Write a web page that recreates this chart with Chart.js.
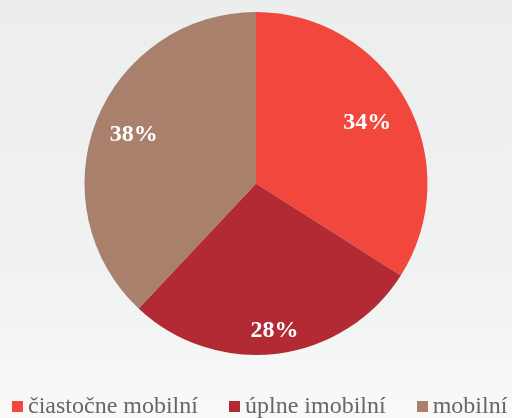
<!DOCTYPE html>
<html>
<head>
<meta charset="utf-8">
<script src="https://cdn.jsdelivr.net/npm/chart.js@4/dist/chart.umd.min.js"></script>
<style>
  html, body { margin: 0; padding: 0; }
  body {
    width: 512px; height: 418px; overflow: hidden; position: relative;
    background: linear-gradient(180deg, #eceeee 0%, #f1f2f2 70%, #f9f9f9 100%);
  }
  #wrap { position: absolute; left: 0; top: 0; width: 512px; height: 418px; }
  #legend {
    position: absolute; left: 12px; top: 393px; height: 24px;
    display: flex; align-items: center; gap: 31px;
    font-family: "Liberation Serif", "DejaVu Serif", serif; font-size: 24px;
    color: #666666; white-space: nowrap; line-height: 24px;
  }
  #legend .item { display: flex; align-items: center; }
  #legend .box { width: 11px; height: 11px; margin-right: 5px; margin-top: 3px; }
</style>
</head>
<body>
<div id="wrap"><canvas id="c" width="512" height="418"></canvas></div>
<div id="legend"></div>
<script>
// ---- data ----
const categories = ["čiastočne mobilní", "úplne imobilní", "mobilní"];
const shares = [34, 28, 38];
const sliceColors = ["#f2473d", "#b22a33", "#a8806b"];
// radial position of each percent label (fraction of radius)
const labelRadiusFrac = [0.74, 0.865, 0.766];

const percentLabels = {
  id: "percentLabels",
  afterDatasetsDraw(chart) {
    const ctx = chart.ctx;
    const meta = chart.getDatasetMeta(0);
    const data = chart.data.datasets[0].data;
    ctx.save();
    ctx.fillStyle = "#ffffff";
    ctx.font = "bold 24px 'Liberation Serif', 'DejaVu Serif', serif";
    ctx.textAlign = "center";
    ctx.textBaseline = "middle";
    meta.data.forEach((arc, i) => {
      const p = arc.getProps(["x", "y", "startAngle", "endAngle", "outerRadius"], true);
      const mid = (p.startAngle + p.endAngle) / 2;
      const r = p.outerRadius * labelRadiusFrac[i];
      ctx.fillText(data[i] + "%", p.x + Math.cos(mid) * r, p.y + Math.sin(mid) * r);
    });
    ctx.restore();
  }
};

const chart = new Chart(document.getElementById("c"), {
  type: "pie",
  data: {
    labels: categories,
    datasets: [{
      data: shares,
      backgroundColor: sliceColors,
      borderWidth: 0
    }]
  },
  options: {
    responsive: false,
    animation: false,
    layout: { padding: { top: 12, bottom: 63, left: 0, right: 0 } },
    plugins: {
      legend: { display: false },
      tooltip: { enabled: false }
    }
  },
  plugins: [percentLabels]
});

// HTML legend built from the chart's own legend items
const legendEl = document.getElementById("legend");
const items = chart.options.plugins.legend.labels.generateLabels(chart);
items.forEach(it => {
  const d = document.createElement("div");
  d.className = "item";
  const b = document.createElement("span");
  b.className = "box";
  b.style.background = it.fillStyle;
  const t = document.createElement("span");
  t.textContent = it.text;
  d.appendChild(b); d.appendChild(t);
  legendEl.appendChild(d);
});
</script>
</body>
</html>
